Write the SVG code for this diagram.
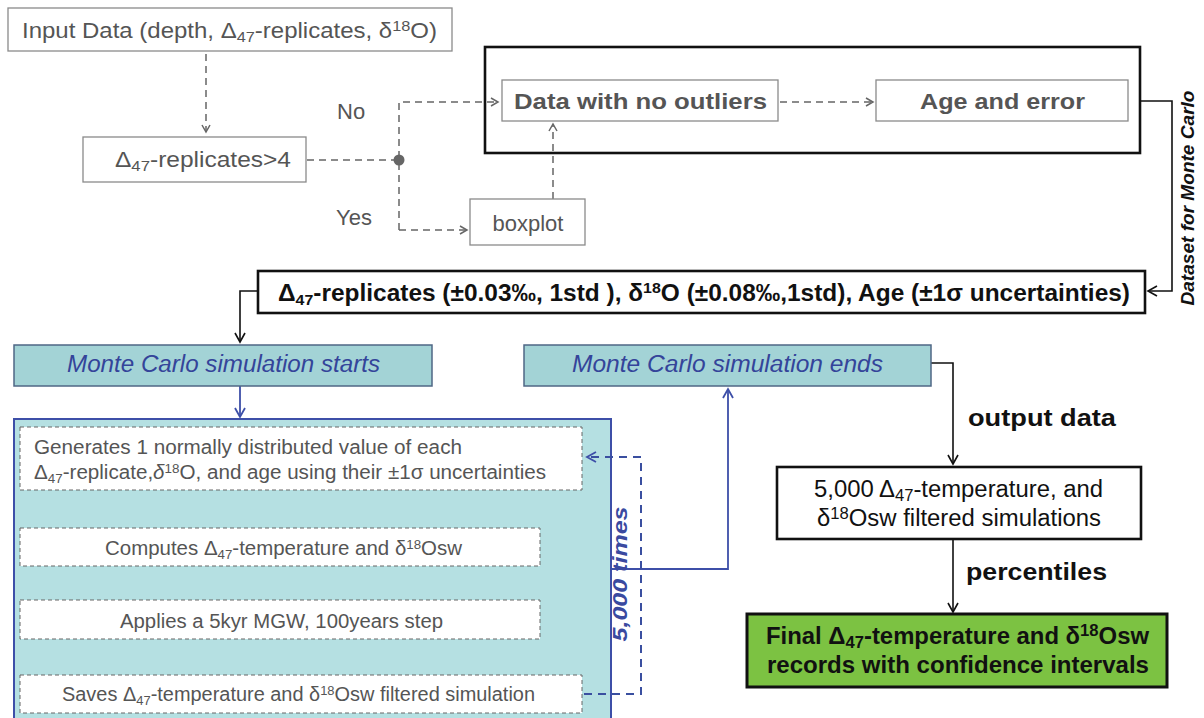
<svg xmlns="http://www.w3.org/2000/svg" width="1204" height="718" viewBox="0 0 1204 718">
<defs>
<style>
.gbox{fill:#fff;stroke:#8a8a8a;stroke-width:1.3}
.kbox{fill:#fff;stroke:#111;stroke-width:2.6}
.gt{font-family:"Liberation Sans",Arial,sans-serif;fill:#555;font-size:22px}
.gb{font-family:"Liberation Sans",Arial,sans-serif;fill:#555;font-size:22px;font-weight:bold}
.kt{font-family:"Liberation Sans",Arial,sans-serif;fill:#111;font-size:23px}
.kb{font-family:"Liberation Sans",Arial,sans-serif;fill:#111;font-size:23px;font-weight:bold}
.mc{fill:#a3d3d6;stroke:#4f6785;stroke-width:1.5}
.mct{font-family:"Liberation Sans",Arial,sans-serif;fill:#34449a;font-size:23px;font-style:italic}
.ib{fill:#fff;stroke:#666;stroke-width:1;stroke-dasharray:4 3}
.it{font-family:"Liberation Sans",Arial,sans-serif;fill:#555;font-size:20px}
.gd{fill:none;stroke:#666;stroke-width:1.5;stroke-dasharray:7 5}
.kl{fill:none;stroke:#111;stroke-width:1.6}
.bl{fill:none;stroke:#3d4fa8;stroke-width:1.8}
.bd{fill:none;stroke:#3a4fa0;stroke-width:2;stroke-dasharray:8 6}
</style>
<marker id="ag" markerWidth="10" markerHeight="10" refX="8" refY="5" orient="auto" markerUnits="userSpaceOnUse"><path d="M1,1 L8,5 L1,9" fill="none" stroke="#666" stroke-width="1.5"/></marker>
<marker id="ak" markerWidth="12" markerHeight="12" refX="10" refY="6" orient="auto" markerUnits="userSpaceOnUse"><path d="M1,1 L10,6 L1,11" fill="none" stroke="#111" stroke-width="1.6"/></marker>
<marker id="ab" markerWidth="12" markerHeight="12" refX="10" refY="6" orient="auto" markerUnits="userSpaceOnUse"><path d="M1,1 L10,6 L1,11" fill="none" stroke="#3d4fa8" stroke-width="1.8"/></marker>
</defs>
<rect width="1204" height="718" fill="#fff"/>

<g id="dataset-group">
<rect x="485" y="47" width="655" height="106" class="kbox"/>
</g>

<g id="connectors">
<line x1="206" y1="54" x2="206" y2="132" class="gd" marker-end="url(#ag)"/>
<line x1="307" y1="160" x2="399" y2="160" class="gd"/>
<polyline points="399,230 399,102 498,102" class="gd" marker-end="url(#ag)"/>
<polyline points="399,230 467,230" class="gd" marker-end="url(#ag)"/>
<circle cx="399" cy="160" r="5.5" fill="#666"/>
<line x1="780" y1="102" x2="873" y2="102" class="gd" marker-end="url(#ag)"/>
<line x1="553" y1="199" x2="553" y2="124" class="gd" marker-end="url(#ag)"/>
<polyline points="1140,101 1172,101 1172,291 1148,291" class="kl" marker-end="url(#ak)"/>
<polyline points="258,291 240,291 240,342" class="kl" marker-end="url(#ak)"/>
<line x1="240" y1="386" x2="240" y2="417" class="bl" marker-end="url(#ab)"/>
<line x1="240" y1="491" x2="240" y2="526" class="bl" marker-end="url(#ab)"/>
<line x1="240" y1="567" x2="240" y2="598" class="bl" marker-end="url(#ab)"/>
<line x1="240" y1="640" x2="240" y2="673" class="bl" marker-end="url(#ab)"/>
<polyline points="611,569 728,569 728,389" class="bl" marker-end="url(#ab)"/>
<polyline points="931,363 953,363 953,464" class="kl" marker-end="url(#ak)"/>
<line x1="953" y1="540" x2="953" y2="612" class="kl" marker-end="url(#ak)"/>
</g>

<g id="input-data">
<rect x="8" y="8" width="444" height="43" class="gbox"/>
<text x="22" y="38" class="gt" textLength="415" lengthAdjust="spacingAndGlyphs">Input Data (depth, Δ<tspan font-size="15" baseline-shift="-4">47</tspan>-replicates, δ<tspan font-size="15" baseline-shift="7">18</tspan>O)</text>
</g>

<g id="replicates-check">
<rect x="83" y="137" width="223" height="45" class="gbox"/>
<text x="115" y="167" class="gt" textLength="176" lengthAdjust="spacingAndGlyphs">Δ<tspan font-size="15" baseline-shift="-4">47</tspan>-replicates&gt;4</text>
</g>
<text x="337" y="119" class="gt">No</text>
<text x="336" y="225" class="gt">Yes</text>

<g id="no-outliers">
<rect x="502" y="80" width="276" height="41" class="gbox"/>
<text x="514" y="109" class="gb" textLength="253" lengthAdjust="spacingAndGlyphs">Data with no outliers</text>
</g>

<g id="age-error">
<rect x="876" y="80" width="252" height="41" class="gbox"/>
<text x="920" y="109" class="gb" textLength="165" lengthAdjust="spacingAndGlyphs">Age and error</text>
</g>

<g id="boxplot">
<rect x="470" y="199" width="115" height="46" class="gbox"/>
<text x="528" y="231" text-anchor="middle" class="gt">boxplot</text>
</g>

<text transform="translate(1194,198) rotate(-90)" text-anchor="middle" font-family="Liberation Sans, Arial, sans-serif" font-size="19" font-weight="bold" font-style="italic" fill="#111" textLength="215" lengthAdjust="spacingAndGlyphs">Dataset for Monte Carlo</text>

<g id="dataset">
<rect x="258" y="271" width="887" height="42" class="kbox"/>
<text x="278" y="301" class="kb" font-size="24" textLength="852" lengthAdjust="spacingAndGlyphs">Δ<tspan font-size="15" baseline-shift="-4">47</tspan>-replicates (±0.03‰, 1std ), δ<tspan font-size="15" baseline-shift="8">18</tspan>O (±0.08‰,1std), Age (±1σ uncertainties)</text>
</g>

<g id="mc-starts">
<rect x="14" y="345" width="418" height="41" class="mc"/>
<text x="67" y="372" class="mct" textLength="313" lengthAdjust="spacingAndGlyphs">Monte Carlo simulation starts</text>
</g>

<g id="mc-ends">
<rect x="524" y="345" width="407" height="41" class="mc"/>
<text x="572" y="372" class="mct" textLength="311" lengthAdjust="spacingAndGlyphs">Monte Carlo simulation ends</text>
</g>

<g id="mc-loop">
<rect x="14" y="419" width="597" height="305" fill="#b5e0e2" stroke="#3d4fa8" stroke-width="2"/>
<g id="generate">
<rect x="20" y="427" width="562" height="63" class="ib"/>
<text x="34" y="454" class="it" textLength="428" lengthAdjust="spacingAndGlyphs">Generates 1 normally  distributed value of each</text>
<text x="34" y="479" class="it" textLength="512" lengthAdjust="spacingAndGlyphs">Δ<tspan font-size="13" baseline-shift="-4">47</tspan>-replicate,<tspan font-style="italic">δ</tspan><tspan font-size="13" baseline-shift="6">18</tspan>O, and age using their ±1σ uncertainties</text>
</g>
<g id="compute">
<rect x="20" y="528" width="520" height="38" class="ib"/>
<text x="105" y="555" class="it" textLength="357" lengthAdjust="spacingAndGlyphs">Computes Δ<tspan font-size="13" baseline-shift="-4">47</tspan>-temperature  and δ<tspan font-size="13" baseline-shift="6">18</tspan>Osw</text>
</g>
<g id="apply">
<rect x="20" y="600" width="520" height="39" class="ib"/>
<text x="120" y="628" class="it" textLength="323" lengthAdjust="spacingAndGlyphs">Applies a 5kyr MGW, 100years step</text>
</g>
<g id="save">
<rect x="20" y="675" width="562" height="38" class="ib"/>
<text x="62" y="701" class="it" textLength="473" lengthAdjust="spacingAndGlyphs">Saves Δ<tspan font-size="13" baseline-shift="-4">47</tspan>-temperature and δ<tspan font-size="13" baseline-shift="6">18</tspan>Osw filtered simulation</text>
</g>
<polyline points="584,694 641,694 641,457 587,457" class="bd" marker-end="url(#ab)"/>
<text transform="translate(627,574) rotate(-90)" text-anchor="middle" font-family="Liberation Sans, Arial, sans-serif" font-size="20" font-weight="bold" font-style="italic" fill="#3a4aa0" textLength="135" lengthAdjust="spacingAndGlyphs">5,000 times</text>
</g>

<text x="968" y="426" class="kb" font-size="26" textLength="148" lengthAdjust="spacingAndGlyphs">output data</text>

<g id="filtered-sims">
<rect x="777" y="467" width="364" height="72" class="kbox"/>
<text x="814" y="497" class="kt" textLength="289" lengthAdjust="spacingAndGlyphs">5,000 Δ<tspan font-size="16" baseline-shift="-4">47</tspan>-temperature, and</text>
<text x="817" y="526" class="kt" textLength="284" lengthAdjust="spacingAndGlyphs">δ<tspan font-size="16" baseline-shift="7">18</tspan>Osw filtered simulations</text>
</g>

<text x="966" y="580" class="kb" font-size="26" textLength="141" lengthAdjust="spacingAndGlyphs">percentiles</text>

<g id="final">
<rect x="747" y="614" width="420" height="73" fill="#7cc242" stroke="#111" stroke-width="3"/>
<text x="766" y="644" class="kb" font-size="24" textLength="383" lengthAdjust="spacingAndGlyphs">Final Δ<tspan font-size="16" baseline-shift="-4">47</tspan>-temperature and δ<tspan font-size="16" baseline-shift="8">18</tspan>Osw</text>
<text x="767" y="673" class="kb" font-size="24" textLength="382" lengthAdjust="spacingAndGlyphs">records with confidence intervals</text>
</g>
</svg>
